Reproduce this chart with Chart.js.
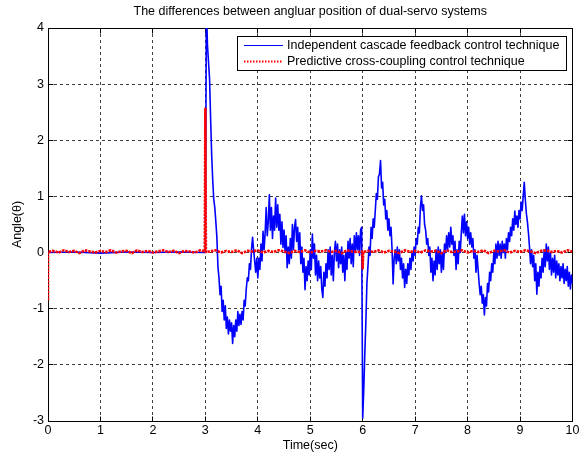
<!DOCTYPE html>
<html>
<head>
<meta charset="utf-8">
<script src="https://cdn.jsdelivr.net/npm/chart.js@4.4.0/dist/chart.umd.min.js"></script>
<style>
  html, body { margin: 0; padding: 0; background: #fff; }
  #wrap { width: 587px; height: 453px; }
</style>
</head>
<body>
<div id="wrap"><canvas id="angleChart" width="587" height="453"></canvas></div>
<script>
const chartTitle = "The differences between angluar position of dual-servo systems";
const xTitle = "Time(sec)";
const yTitle = "Angle(\u03b8)";
const seriesNames = [
  "Independent cascade feedback control technique",
  "Predictive cross-coupling control technique"
];

const xTicks = [0, 1, 2, 3, 4, 5, 6, 7, 8, 9, 10];
const yTicks = [-3, -2, -1, 0, 1, 2, 3, 4];

// cascade control: flat (under the red trace) until the disturbance at t = 3 s
const blueLeadTime = [0, 0.5, 1.0, 1.5, 2.0, 2.5, 2.98];
const blueLeadAngle = [0.00, 0.01, -0.01, 0.01, 0.00, 0.01, 0.00];

const blueSampleStart = 3.0;
const blueSampleStep = 0.02;
const blueAngle = [
  0.00, 4.40, 3.70, 3.40, 3.10, 2.40, 1.75, 1.30, 0.95, 0.80,
  0.55, 0.27, -0.25, -0.45, -0.75, -0.60, -1.05, -0.85, -1.20, -0.95,
  -1.35, -1.15, -1.45, -1.20, -1.40, -1.25, -1.62, -1.30, -1.50, -1.20,
  -1.40, -1.05, -1.30, -1.10, -1.28, -1.05, -1.20, -0.85, -0.95, -0.65,
  -0.45, -0.50, -0.20, -0.30, 0.05, 0.27, 0.05, -0.15, -0.35, -0.10,
  -0.45, -0.10, -0.30, 0.15, -0.15, 0.38, 0.05, 0.35, 0.80, 0.30,
  0.55, 1.03, 0.40, 0.80, 0.25, 0.65, 0.40, 0.97, 0.45, 0.85,
  0.40, 0.68, 0.15, 0.55, 0.09, 0.40, 0.00, 0.30, -0.27, 0.10,
  -0.20, 0.25, -0.10, 0.50, 0.05, 0.45, 0.59, 0.20, 0.45, 0.05,
  0.35, -0.20, 0.10, -0.35, -0.10, -0.66, -0.25, -0.50, -0.15, -0.40,
  0.05, -0.30, 0.33, -0.10, 0.15, -0.40, -0.05, -0.50, -0.15, -0.45,
  -0.25, -0.65, -0.80, -0.35, -0.60, -0.20, -0.45, 0.05, -0.30, 0.10,
  -0.40, -0.05, -0.50, 0.00, 0.20, -0.15, 0.15, -0.27, 0.05, -0.20,
  0.10, -0.35, -0.05, -0.50, 0.00, -0.30, 0.20, -0.10, 0.25, -0.20,
  0.15, -0.25, 0.30, 0.00, 0.35, 0.05, 0.30, -0.05, 0.40, 0.45,
  -2.95, -2.45, -1.80, -1.25, -0.55, -0.25, 0.10, -0.05, 0.45, 0.25,
  0.60, 0.45, 0.75, 1.05, 0.95, 1.35, 1.40, 1.64, 1.15, 1.25,
  0.85, 0.95, 0.60, 0.75, 0.40, 0.60, 0.30, 0.45, 0.05, -0.56,
  -0.10, 0.05, -0.20, 0.10, -0.15, 0.05, -0.30, -0.10, -0.45, -0.20,
  -0.62, -0.30, -0.55, -0.20, -0.40, -0.10, -0.30, 0.00, -0.15, 0.10,
  -0.05, 0.25, 0.15, 0.45, 0.35, 0.80, 1.01, 0.75, 0.85, 0.50,
  0.40, 0.15, 0.25, -0.05, 0.10, -0.35, -0.10, -0.50, -0.15, -0.40,
  0.05, -0.30, 0.10, -0.20, 0.05, -0.35, 0.00, -0.30, 0.15, 0.00,
  0.30, 0.05, 0.35, 0.10, 0.45, 0.15, 0.30, -0.05, 0.20, -0.30,
  0.05, -0.20, 0.20, 0.00, 0.35, 0.65, 0.35, 0.68, 0.30, 0.55,
  0.25, 0.45, 0.15, 0.35, 0.10, 0.25, -0.10, 0.05, -0.35, -0.05,
  -0.30, -0.55, -0.75, -0.60, -0.90, -0.75, -1.11, -0.80, -0.95, -0.55,
  -0.70, -0.35, -0.50, -0.20, -0.35, 0.00, -0.20, 0.15, -0.10, 0.20,
  -0.05, 0.15, -0.10, 0.20, 0.00, 0.15, -0.10, 0.25, 0.05, 0.35,
  0.20, 0.45, 0.30, 0.60, 0.40, 0.74, 0.50, 0.65, 0.45, 0.75,
  0.60, 0.90, 0.75, 1.00, 1.25, 0.95, 0.70, 0.55, 0.35, 0.10,
  -0.20, 0.05, -0.25, -0.05, -0.50, -0.20, -0.74, -0.35, -0.60, -0.25,
  -0.45, -0.10, -0.35, 0.05, -0.25, 0.15, -0.15, 0.10, -0.30, 0.00,
  -0.40, -0.10, -0.35, -0.05, -0.45, -0.15, -0.40, -0.20, -0.50, -0.25,
  -0.45, -0.20, -0.55, -0.30, -0.50, -0.25, -0.60, -0.35, -0.65, -0.40,
  -0.55
];

// cross-coupling control: stays near zero, short kicks at 0 s, 3 s and 6 s
const redTime = [
  0, 0,
  0.1, 0.2, 0.3, 0.4, 0.5, 0.6, 0.7, 0.8, 0.9, 1.0, 1.1, 1.2, 1.3, 1.4, 1.5,
  1.6, 1.7, 1.8, 1.9, 2.0, 2.1, 2.2, 2.3, 2.4, 2.5, 2.6, 2.7, 2.8, 2.9,
  2.99, 3.0, 3.01,
  3.1, 3.2, 3.3, 3.4, 3.5, 3.6, 3.7, 3.8, 3.9, 4.0, 4.1, 4.2, 4.3, 4.4, 4.5,
  4.6, 4.7, 4.8, 4.9, 5.0, 5.1, 5.2, 5.3, 5.4, 5.5, 5.6, 5.7, 5.8, 5.9,
  5.99, 6.0, 6.01,
  6.1, 6.2, 6.3, 6.4, 6.5, 6.6, 6.7, 6.8, 6.9, 7.0, 7.1, 7.2, 7.3, 7.4, 7.5,
  7.6, 7.7, 7.8, 7.9, 8.0, 8.1, 8.2, 8.3, 8.4, 8.5, 8.6, 8.7, 8.8, 8.9, 9.0,
  9.1, 9.2, 9.3, 9.4, 9.5, 9.6, 9.7, 9.8, 9.9, 10.0
];
const redAngle = [
  -0.85, 0.01,
  0.03, 0.00, 0.04, 0.01, 0.03, -0.01, 0.04, 0.02, 0.00, 0.03, 0.01, 0.04, 0.00, 0.02, 0.03,
  -0.01, 0.04, 0.01, 0.03, 0.00, 0.02, 0.04, 0.01, 0.03, -0.01, 0.03, 0.02, 0.00, 0.04,
  0.02, 2.56, 0.01,
  0.02, 0.04, 0.00, 0.03, 0.01, 0.04, -0.01, 0.03, 0.02, 0.04, 0.00, 0.03, 0.01, 0.04, 0.02,
  -0.01, 0.03, 0.01, 0.04, 0.00, 0.03, 0.02, 0.04, 0.01, 0.03, -0.01, 0.04, 0.02, 0.01,
  0.02, -0.28, 0.01,
  0.03, 0.01, 0.04, 0.00, 0.03, 0.02, -0.01, 0.04, 0.01, 0.03, 0.00, 0.04, 0.02, 0.03, -0.01,
  0.04, 0.01, 0.02, 0.04, 0.00, 0.03, 0.01, 0.04, -0.01, 0.03, 0.02, 0.04, 0.00, 0.03, 0.01,
  0.04, 0.02, -0.01, 0.03, 0.04, 0.01, 0.03, 0.00, 0.04, 0.02
];

const fontFamily = "'Liberation Sans', Arial, Helvetica, sans-serif";
const fontSize = 12.5;

const bluePoints = blueLeadTime.map((t, i) => ({ x: t, y: blueLeadAngle[i] }))
  .concat(blueAngle.map((v, i) => ({ x: +(blueSampleStart + i * blueSampleStep).toFixed(2), y: v })));
const redPoints = redTime.map((t, i) => ({ x: t, y: redAngle[i] }));

// half-pixel snapping the same way Chart.js does for 1px lines
const snap = p => Math.round(p - 0.5) + 0.5;

const framePlugin = {
  id: 'frame',
  beforeDatasetsDraw(chart) {
    const { ctx, chartArea: a, scales: { x, y } } = chart;
    const L = snap(a.left), R = snap(a.right), T = snap(a.top), B = snap(a.bottom);
    const tick = 5;
    ctx.save();
    ctx.strokeStyle = '#000';
    ctx.lineWidth = 1;
    ctx.beginPath();
    ctx.rect(L, T, R - L, B - T);
    xTicks.forEach(v => {
      const px = snap(x.getPixelForValue(v));
      ctx.moveTo(px, B); ctx.lineTo(px, B - tick);
      ctx.moveTo(px, T); ctx.lineTo(px, T + tick);
    });
    yTicks.forEach(v => {
      const py = snap(y.getPixelForValue(v));
      ctx.moveTo(L, py); ctx.lineTo(L + tick, py);
      ctx.moveTo(R, py); ctx.lineTo(R - tick, py);
    });
    ctx.stroke();
    ctx.restore();
  },
  afterDraw(chart) {
    const { ctx, chartArea: a } = chart;
    ctx.save();
    ctx.font = fontSize + 'px ' + fontFamily;
    ctx.fillStyle = '#000';
    ctx.textBaseline = 'middle';

    // title, centred over the axes
    ctx.textAlign = 'center';
    ctx.fillText(chartTitle, (a.left + a.right) / 2, 12);

    // legend box in the upper right corner
    const box = { left: 237.5, top: 36.5, width: 329, height: 34 };
    ctx.fillStyle = '#fff';
    ctx.fillRect(box.left, box.top, box.width, box.height);
    ctx.strokeStyle = '#000';
    ctx.lineWidth = 1;
    ctx.strokeRect(box.left, box.top, box.width, box.height);

    ctx.textAlign = 'left';
    chart.data.datasets.forEach((ds, i) => {
      const rowY = 45 + i * 16;
      ctx.save();
      ctx.strokeStyle = ds.borderColor;
      ctx.lineWidth = i === 0 ? 1 : 2;
      ctx.setLineDash(i === 0 ? [] : [1.5, 1.5]);
      ctx.beginPath();
      ctx.moveTo(244, rowY + 0.5);
      ctx.lineTo(283, rowY + 0.5);
      ctx.stroke();
      ctx.restore();
      ctx.fillStyle = '#000';
      ctx.fillText(ds.label, 287, rowY + 0.5);
    });
    ctx.restore();
  }
};

const axisFont = { family: fontFamily, size: fontSize };
const gridColor = 'rgba(0,0,0,0.75)';

new Chart(document.getElementById('angleChart'), {
  type: 'line',
  data: {
    datasets: [
      {
        label: seriesNames[0],
        data: bluePoints,
        borderColor: '#0000ff',
        borderWidth: 1.6,
        borderJoinStyle: 'round',
        pointRadius: 0,
        tension: 0,
        order: 1
      },
      {
        label: seriesNames[1],
        data: redPoints,
        borderColor: '#ff0000',
        borderWidth: 2.6,
        borderDash: [2.5, 1],
        borderJoinStyle: 'round',
        pointRadius: 0,
        tension: 0,
        order: 0
      }
    ]
  },
  options: {
    responsive: false,
    animation: false,
    events: [],
    layout: { padding: { top: 28, right: 14.5, left: 0, bottom: 0 } },
    plugins: {
      legend: { display: false },
      tooltip: { enabled: false },
      title: { display: false }
    },
    scales: {
      x: {
        type: 'linear',
        min: 0,
        max: 10,
        afterBuildTicks: s => { s.ticks = xTicks.map(v => ({ value: v })); },
        afterFit: s => { s.height = 32; },
        grid: { color: gridColor, lineWidth: 1, drawTicks: false },
        border: { display: false, dash: [3, 3] },
        ticks: { padding: 2, color: '#000', font: axisFont, maxRotation: 0, autoSkip: false },
        title: { display: true, text: xTitle, color: '#000', font: axisFont, padding: { top: 0, bottom: 0 } }
      },
      y: {
        type: 'linear',
        min: -3,
        max: 4,
        afterBuildTicks: s => { s.ticks = yTicks.map(v => ({ value: v })); },
        afterFit: s => { s.width = 48; },
        grid: { color: gridColor, lineWidth: 1, drawTicks: false },
        border: { display: false, dash: [3, 3] },
        ticks: { padding: 4, color: '#000', font: axisFont, autoSkip: false },
        title: { display: true, text: yTitle, color: '#000', font: axisFont, padding: { top: 10, bottom: 0 } }
      }
    }
  },
  plugins: [framePlugin]
});
</script>
</body>
</html>
